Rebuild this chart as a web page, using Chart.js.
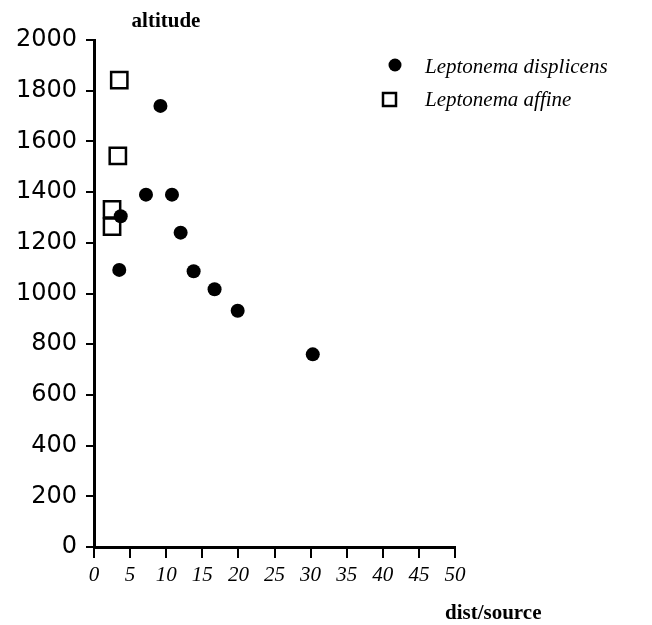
<!doctype html>
<html>
<head>
<meta charset="utf-8">
<script src="https://cdn.jsdelivr.net/npm/chart.js@4"></script>
<style>
  html, body { margin: 0; padding: 0; background: #fff; }
  #wrap { width: 652px; height: 625px; position: relative; }
</style>
</head>
<body>
<div id="wrap"><canvas id="c"></canvas></div>
<script>
// данные
const seriesNames = ['Leptonema displicens', 'Leptonema affine'];
const displicensDist = [9.2, 7.2, 10.8, 3.7, 12.0, 3.5, 13.8, 16.7, 19.9, 30.3];
const displicensAlt  = [1740, 1390, 1390, 1305, 1240, 1093, 1088, 1017, 932, 760];
const affineDist = [3.5, 3.3, 2.5, 2.5];
const affineAlt  = [1842, 1543, 1332, 1264];
const xTitle = 'dist/source';
const yTitle = 'altitude';

const pts = (xs, ys) => xs.map((x, i) => ({ x, y: ys[i] }));

// подписи осей и легенда рисуются вручную — у оригинала они стоят не там, где их ставит Chart.js
const extras = {
  id: 'extras',
  afterDraw(chart) {
    const ctx = chart.ctx;
    ctx.save();
    ctx.fillStyle = '#000';
    ctx.textBaseline = 'alphabetic';
    ctx.font = 'bold 21px "Liberation Serif"';
    ctx.textAlign = 'center';
    ctx.fillText(yTitle, 166, 27);
    ctx.textAlign = 'left';
    ctx.font = 'bold 21px "Liberation Serif"';
    ctx.fillText(xTitle, 445, 619);

    ctx.font = 'italic 21px "Liberation Serif"';
    chart.data.datasets.forEach((ds, i) => {
      const cy = 66 + i * 33;
      ctx.lineWidth = 2.5;
      ctx.strokeStyle = '#000';
      if (ds.pointStyle === 'rect') {
        ctx.strokeRect(383, cy - 6, 13, 13);
      } else {
        ctx.beginPath();
        ctx.arc(395, cy - 1, 6.5, 0, Math.PI * 2);
        ctx.fill();
      }
      ctx.fillText(ds.label, 425, cy + 7);
    });
    ctx.restore();
  }
};

new Chart(document.getElementById('c'), {
  type: 'scatter',
  data: {
    datasets: [
      { label: seriesNames[0], data: pts(displicensDist, displicensAlt), pointStyle: 'circle',
        pointRadius: 7, backgroundColor: '#000', borderColor: '#000', borderWidth: 0 },
      { label: seriesNames[1], data: pts(affineDist, affineAlt), pointStyle: 'rect',
        pointRadius: 11.5, backgroundColor: 'rgba(255,255,255,0)', borderColor: '#000', borderWidth: 2.5 },
    ]
  },
  options: {
    responsive: true,
    maintainAspectRatio: false,
    animation: false,
    layout: { padding: { left: 0, top: 40, right: 197, bottom: 0 } },
    plugins: { legend: { display: false }, tooltip: { enabled: false } },
    scales: {
      x: {
        min: 0, max: 50,
        ticks: { stepSize: 5, color: '#000', padding: 5, font: { family: 'Liberation Serif', style: 'italic', size: 21 } },
        grid: { drawOnChartArea: false, tickLength: 11, color: '#000', lineWidth: 2 },
        border: { color: '#000', width: 3 },
        afterFit(s) { s.height = 78; }
      },
      y: {
        min: 0, max: 2000,
        ticks: { stepSize: 200, color: '#000', padding: 9, font: { family: 'DejaVu Sans', size: 24 },
          callback: (v) => String(v) },
        grid: { drawOnChartArea: false, tickLength: 8, color: '#000', lineWidth: 2 },
        border: { color: '#000', width: 3 },
        afterFit(s) { s.width = 94; }
      }
    }
  },
  plugins: [extras]
});
</script>
</body>
</html>
